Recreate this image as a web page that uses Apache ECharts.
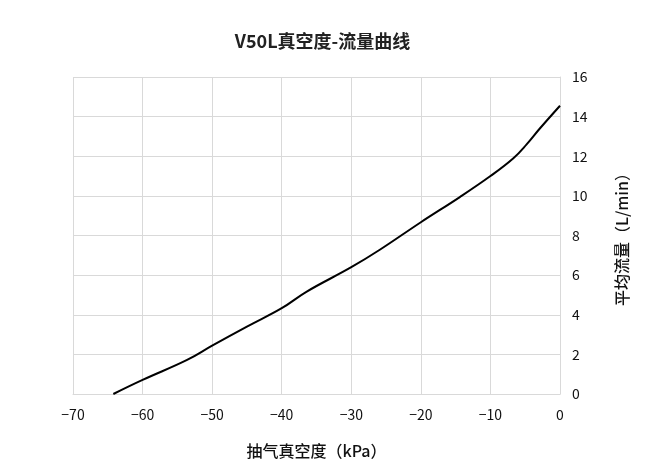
<!DOCTYPE html>
<html><head><meta charset="utf-8">
<script src="https://cdn.jsdelivr.net/npm/echarts@6/dist/echarts.min.js"></script>
<style>html,body{margin:0;padding:0;background:#fff}#c{width:645px;height:472px}</style>
</head><body><div id="c"></div>
<script>
const titleText = 'V50L真空度-流量曲线';
const xName = '抽气真空度（kPa）';
const yName = '平均流量（L/min）';
const vacuum = [-64.2, -60, -53.6, -50, -45, -40, -36.4, -30, -25.9, -20, -14.4, -10, -6.7, -4.8, -2.9, 0];
const flow = [0, 0.71, 1.72, 2.44, 3.4, 4.33, 5.17, 6.4, 7.28, 8.67, 9.94, 11.0, 11.9, 12.6, 13.4, 14.55];
const data = vacuum.map((v, i) => [v, flow[i]]);
const font = '"Noto Sans CJK SC", "Noto Sans", sans-serif';
const chart = echarts.init(document.getElementById('c'));
chart.setOption({
  animation: false,
  title: { text: titleText, left: 'center', top: 27, textStyle: { fontFamily: font, fontSize: 18, fontWeight: 'bold', color: '#222' } },
  grid: { left: 73, right: 85, top: 77, bottom: 78, containLabel: false },
  xAxis: {
    type: 'value', min: -70, max: 0, interval: 10,
    name: xName, nameLocation: 'middle', nameGap: 49,
    nameTextStyle: { fontFamily: font, fontSize: 16, fontWeight: 500, color: '#111' },
    axisLine: { show: true, lineStyle: { color: '#d9d9d9' } },
    axisTick: { show: false },
    axisLabel: { fontFamily: font, fontSize: 14, color: '#111', margin: 14, formatter: v => String(v).replace('-', '−') },
    splitLine: { show: true, lineStyle: { color: '#d9d9d9' } }
  },
  yAxis: {
    type: 'value', position: 'right', min: 0, max: 16, interval: 2,
    name: yName, nameLocation: 'middle', nameGap: 54, nameRotate: 90,
    nameTextStyle: { fontFamily: font, fontSize: 16, fontWeight: 500, color: '#111' },
    axisLine: { show: true, lineStyle: { color: '#d9d9d9' } },
    axisTick: { show: false },
    axisLabel: { fontFamily: font, fontSize: 14, color: '#111', margin: 12 },
    splitLine: { show: true, lineStyle: { color: '#d9d9d9' } }
  },
  series: [{
    type: 'line', data: data, smooth: 0.4, showSymbol: false,
    lineStyle: { color: '#000', width: 2 }
  }]
});
</script></body></html>
